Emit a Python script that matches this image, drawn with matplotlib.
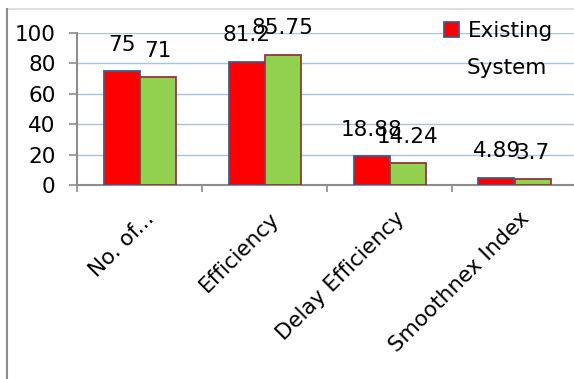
import numpy as np
import matplotlib
matplotlib.use('Agg')
from matplotlib import pyplot as plt
from matplotlib.lines import Line2D
import matplotlib.transforms as mtransforms

plt.rcParams['font.family'] = ['DejaVu Sans']

categories = ['No. of...', 'Efficiency', 'Delay Efficiency', 'Smoothnex Index']
existing = [75, 81.2, 18.88, 4.89]
proposed = [71, 85.75, 14.24, 3.7]
existing_labels = ['75', '81.2', '18.88', '4.89']
proposed_labels = ['71', '85.75', '14.24', '3.7']
yticks = [0, 20, 40, 60, 80, 100]

W, H = 574, 379
fig = plt.figure(figsize=(W / 100, H / 100), dpi=100)

# outer chart frame (cropped on the right and bottom)
fig.add_artist(Line2D([7 / W, 1.0], [1 - 9 / H, 1 - 9 / H], color='#d9d9d9', lw=1.2))
fig.add_artist(Line2D([7 / W, 7 / W], [0, 1 - 9 / H], color='#8c8c8c', lw=1.5))

ax = fig.add_axes([77 / W, (H - 185) / H, 500 / W, 152 / H])

x = np.arange(len(categories))
bw = 0.288
b1 = ax.bar(x - bw / 2, existing, bw, color='#ff0000', edgecolor='#3a5d8e', lw=1.3, zorder=3)
b2 = ax.bar(x + bw / 2, proposed, bw, color='#92d050', edgecolor='#8e3a38', lw=1.3, zorder=3)

for xi, v, s in zip(x - bw / 2, existing, existing_labels):
    ax.annotate(s, (xi, v), xytext=(0, 19), textcoords='offset points',
                ha='center', va='center', fontsize=15.5, zorder=5)
for xi, v, s in zip(x + bw / 2, proposed, proposed_labels):
    ax.annotate(s, (xi, v), xytext=(0, 19), textcoords='offset points',
                ha='center', va='center', fontsize=15.5, zorder=5)

ax.set_xlim(-0.5, len(categories) - 0.5)
ax.set_ylim(0, 100)
ax.set_yticks(yticks)
ax.set_yticklabels([str(t) for t in yticks], fontsize=15.5)
ax.yaxis.grid(True, color='#a9c2e4', lw=1.0)
ax.set_axisbelow(True)

ax.set_xticks(x)
ax.set_xticklabels(categories, fontsize=15.5, rotation=45, ha='right',
                   va='center', rotation_mode='anchor')
ax.set_xticks(np.arange(len(categories) + 1) - 0.5, minor=True)
ax.tick_params(axis='x', which='major', length=0, pad=22)
ax.tick_params(axis='x', which='minor', length=5, width=1.2, color='#8c8c8c')
ax.tick_params(axis='y', length=5.5, width=1.2, color='#8c8c8c', pad=10)
offset = mtransforms.ScaledTranslation(12 / 100, 0, fig.dpi_scale_trans)
for lbl in ax.get_xticklabels():
    lbl.set_transform(lbl.get_transform() + offset)

for side in ['top', 'right']:
    ax.spines[side].set_visible(False)
for side in ['left', 'bottom']:
    ax.spines[side].set_color('#8c8c8c')
    ax.spines[side].set_linewidth(1.5)

leg = ax.legend([b1], ['Existing'], loc='upper left', bbox_to_anchor=(444 / W, 1 - 21 / H),
                bbox_transform=fig.transFigure, frameon=False, fontsize=15.5,
                handlelength=0.7, handleheight=0.7, handletextpad=0.4,
                borderpad=0, borderaxespad=0)
fig.text(467 / W, 1 - 68 / H, 'System', fontsize=15.5, ha='left', va='center')

fig.savefig('out.png', dpi=100)
